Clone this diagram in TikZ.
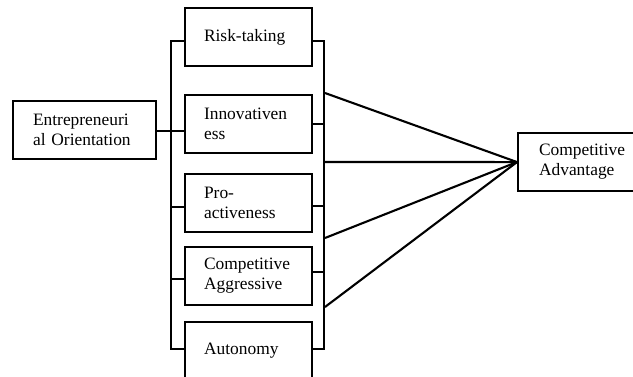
\documentclass[tikz,border=0pt]{standalone}
\usepackage{fontspec}
\setmainfont{Liberation Serif}
\begin{document}
\begin{tikzpicture}[x=1pt,y=-1pt,
  every node/.style={font=\fontsize{17.4}{20}\selectfont},
  box/.style={draw, line width=2.1pt, anchor=north west, align=left,
    minimum height=58pt, inner ysep=2pt},
  dim/.style={box, text width=89pt, inner xsep=19pt},
  ln/.style={line width=2.1pt}]
\useasboundingbox (0,0) rectangle (633,376);
% boxes
\node[dim] (rt) at (184,7) {Risk-taking};
\node[dim] (in) at (184,94) {Innovativen\\ess};
\node[dim] (pr) at (184,173) {Pro-\\activeness};
\node[dim] (ag) at (184,246) {Competitive\\Aggressive};
\node[dim] (au) at (184,321) {Autonomy};
\node[box, text width=103pt, inner xsep=20pt] (eo) at (12,100) {Entrepreneuri\\al Orientation};
\node[box, text width=100pt, inner xsep=21pt] (ca) at (517,132) {Competitive\\Advantage};
% bus coordinates
\coordinate (l1) at (171,41);
\coordinate (l2) at (171,131);
\coordinate (l3) at (171,207);
\coordinate (l4) at (171,279);
\coordinate (l5) at (171,349);
\coordinate (r1) at (324,41);
\coordinate (r2) at (324,124);
\coordinate (r3) at (324,206);
\coordinate (r4) at (324,272);
\coordinate (r5) at (324,349);
\coordinate (c1) at (325,93);
\coordinate (c2) at (325,162);
\coordinate (c3) at (325,238);
\coordinate (c4) at (325,307);
% left bracket
\draw[ln] (rt.west |- l1) -- (l1) -- (l5) -- (au.west |- l5);
\draw[ln] (eo.east |- l2) -- (in.west |- l2);
\draw[ln] (l3) -- (pr.west |- l3);
\draw[ln] (l4) -- (ag.west |- l4);
% right bracket
\draw[ln] (rt.east |- r1) -- (r1) -- (r5) -- (au.east |- r5);
\draw[ln] (in.east |- r2) -- (r2);
\draw[ln] (pr.east |- r3) -- (r3);
\draw[ln] (ag.east |- r4) -- (r4);
% to competitive advantage
\draw[ln] (c1) -- (ca.west);
\draw[ln] (c2) -- (ca.west);
\draw[ln] (c3) -- (ca.west);
\draw[ln] (c4) -- (ca.west);
\end{tikzpicture}
\end{document}
